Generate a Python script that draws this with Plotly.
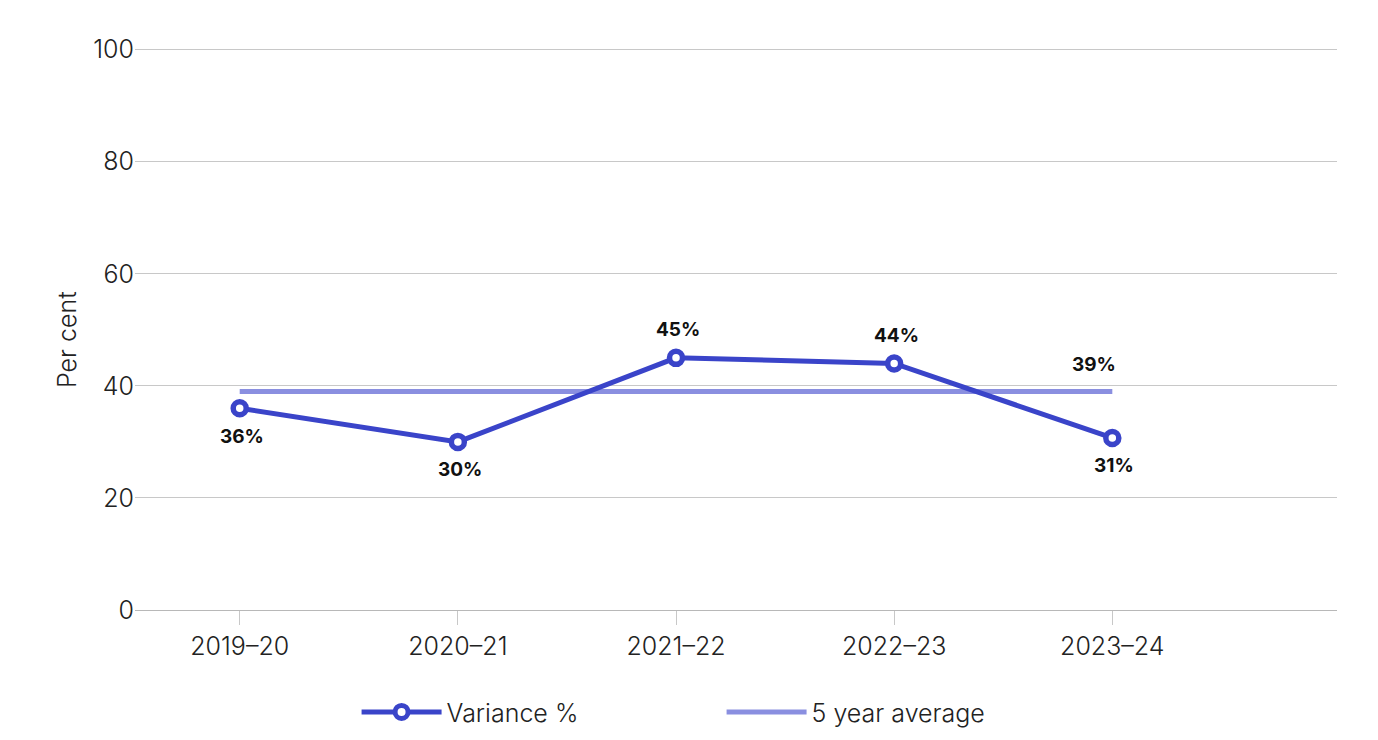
import plotly.graph_objects as go

years = ["2019–20", "2020–21", "2021–22", "2022–23", "2023–24"]
variance = [36, 30, 45, 44, 30.7]
average = [39, 39, 39, 39, 39]
var_label_side = [-1, -1, 1, 1, -1]   # -1 below the point, +1 above

LINE_COL = "#3a44c9"
AVG_COL = "#8a8fe0"
FONT = "Inter"

fig = go.Figure()
fig.add_trace(go.Scatter(
    x=years, y=average, mode="lines", name="5 year average",
    line=dict(color=AVG_COL, width=5),
))
fig.add_trace(go.Scatter(
    x=years, y=variance, mode="lines+markers", name="Variance %",
    line=dict(color=LINE_COL, width=5),
    marker=dict(symbol="circle", size=13, color="white", line=dict(color=LINE_COL, width=5.5)),
))

annotations = []
for xv, yv, side in zip(years, variance, var_label_side):
    annotations.append(dict(
        x=xv, y=yv, xref="x", yref="y", text=f"{round(yv)}%", showarrow=False,
        xanchor="center", yanchor="middle", yshift=28 * side, xshift=2,
        font=dict(family=FONT, size=19, color="#111", weight=700),
    ))
annotations.append(dict(
    x=years[-1], y=average[-1], xref="x", yref="y", text=f"{round(average[-1])}%",
    showarrow=False, xanchor="right", yanchor="middle", yshift=27, xshift=6,
    font=dict(family=FONT, size=19, color="#111", weight=700),
))
annotations.append(dict(
    x=0, y=0.5, xref="paper", yref="paper", text="Per cent", textangle=-90,
    showarrow=False, xanchor="center", yanchor="middle", xshift=-68, yshift=-11,
    font=dict(family=FONT, size=25, color="#222", weight=300),
))

fig.update_layout(
    width=1370, height=732,
    margin=dict(l=127, r=41, t=40, b=130, autoexpand=False),
    paper_bgcolor="white", plot_bgcolor="white",
    font=dict(family=FONT, size=25, color="#222", weight=300),
    showlegend=True,
    annotations=annotations,
    legend=dict(orientation="h", x=0.488, xanchor="center",
                yref="container", y=0.038, yanchor="middle",
                traceorder="reversed", font=dict(size=25, family=FONT, weight=300),
                itemwidth=80, entrywidthmode="pixels", entrywidth=270),
    xaxis=dict(type="category", range=[-0.48, 5.03], showgrid=False,
               showline=False, ticks="outside", ticklen=14, tickcolor="#c8c8c8",
               tickfont=dict(size=25, family=FONT, weight=300), zeroline=False),
    yaxis=dict(range=[0, 100.3], tickvals=[0, 20, 40, 60, 80, 100], showgrid=True,
               gridcolor="#c8c8c8", gridwidth=1,
               zeroline=True, zerolinecolor="#b8b8b8", zerolinewidth=1,
               tickfont=dict(size=25, family=FONT, weight=300),
               ticks="", showline=False),
)

fig.write_html("out.html")
